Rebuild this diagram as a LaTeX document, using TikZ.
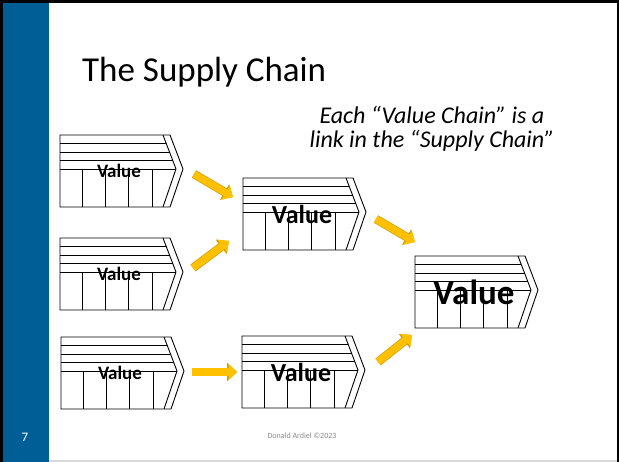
\documentclass[tikz,border=0pt]{standalone}
\usepackage{fontspec}
\setmainfont{Carlito}
\usepackage{xcolor}
\definecolor{slideBlue}{HTML}{005E96}
\definecolor{arrowGold}{HTML}{FFC000}
\definecolor{arrowEdge}{HTML}{D39E00}
\definecolor{footGray}{HTML}{8C8C8C}
\definecolor{rimGray}{HTML}{D9D9D9}
\usepackage{tikz}
\usetikzlibrary{arrows.meta,calc}
\tikzset{%
  chainLine/.style={%
    draw=black,
    line width=0.9pt
  },
  chainLabel/.style={%
    inner sep=0pt,
    font=\bfseries\fontsize{#1}{#1}\selectfont
  },
  blockArrow/.style={%
    preaction={draw=arrowEdge, line width=8.6pt, -{Triangle[length=9.8pt,width=17.6pt]}},
    draw=arrowGold,
    line width=7.2pt,
    -{Triangle[length=8.4pt,width=15.6pt]}
  },
  valueChain/.pic={%
    \draw[chainLine] (0,0) -- (110,0) -- (123,34) -- (110,72) -- (0,72) -- cycle;
    \draw[chainLine] (103,0) -- (116,34) -- (103,72);
    \draw[chainLine] (0,8.5) -- (106.25,8.5) (0,17) -- (109.5,17) (0,25.5) -- (112.75,25.5) (0,34) -- (116,34);
    \draw[chainLine] (22,34) -- (22,72) (45,34) -- (45,72) (68,34) -- (68,72) (92,34) -- (92,72);
    \node[chainLabel=#1] (-label) at (59,36) {Value};
    \coordinate (-nw) at (0,0);
    \coordinate (-sw) at (0,72);
    \coordinate (-tip) at (123,34);
  }
}

\begin{document}
\begin{tikzpicture}[x=1pt,y=-1pt]
  \useasboundingbox (0,0) rectangle (619,462);
  % slide frame
  \fill[black] (0,0) rectangle (619,462);
  \fill[white] (2.7,2.7) rectangle (617,460);
  \fill[rimGray] (49,460) rectangle (617,462);
  \fill[slideBlue] (2.7,2.7) rectangle (49,462);

  \node[anchor=base west, inner sep=0pt, font=\fontsize{35}{35}\selectfont] (title) at (82,82) {The Supply Chain};
  \node[anchor=north, align=center, inner sep=0pt, font=\itshape\fontsize{24}{24}\selectfont] (note) at (432,106) {Each “Value Chain” is a\\link in the “Supply Chain”};

  % value chains
  \pic (supA) at (60,135) {valueChain=19};
  \pic (supB) at (60,238) {valueChain=19};
  \pic (supC) at (61,337) {valueChain=19};
  \pic (mfrA) at (243,178) {valueChain=26};
  \pic (mfrB) at (242,336) {valueChain=26};
  \pic (cust) at (415,256) {valueChain=35};

  \draw[blockArrow] ($(supA-tip)+(11,5)$) -- ($(mfrA-nw)+(-10,19)$);
  \draw[blockArrow] ($(supB-tip)+(10,-4)$) -- ($(mfrA-sw)+(-14,-9)$);
  \draw[blockArrow] ($(supC-tip)+(8,1)$) -- ($(mfrB-nw)+(-5,36)$);
  \draw[blockArrow] ($(mfrA-tip)+(10,7)$) -- ($(cust-nw)+(0,-14)$);
  \draw[blockArrow] ($(mfrB-tip)+(13,-8)$) -- ($(cust-sw)+(-3,7)$);

  \node[font=\fontsize{8}{8}\selectfont, text=footGray] (credit) at (302,436) {Donald Ardiel ©2023};
  \node[font=\fontsize{13}{13}\selectfont, text=white] (pageNo) at (25,437) {7};
\end{tikzpicture}
\end{document}
